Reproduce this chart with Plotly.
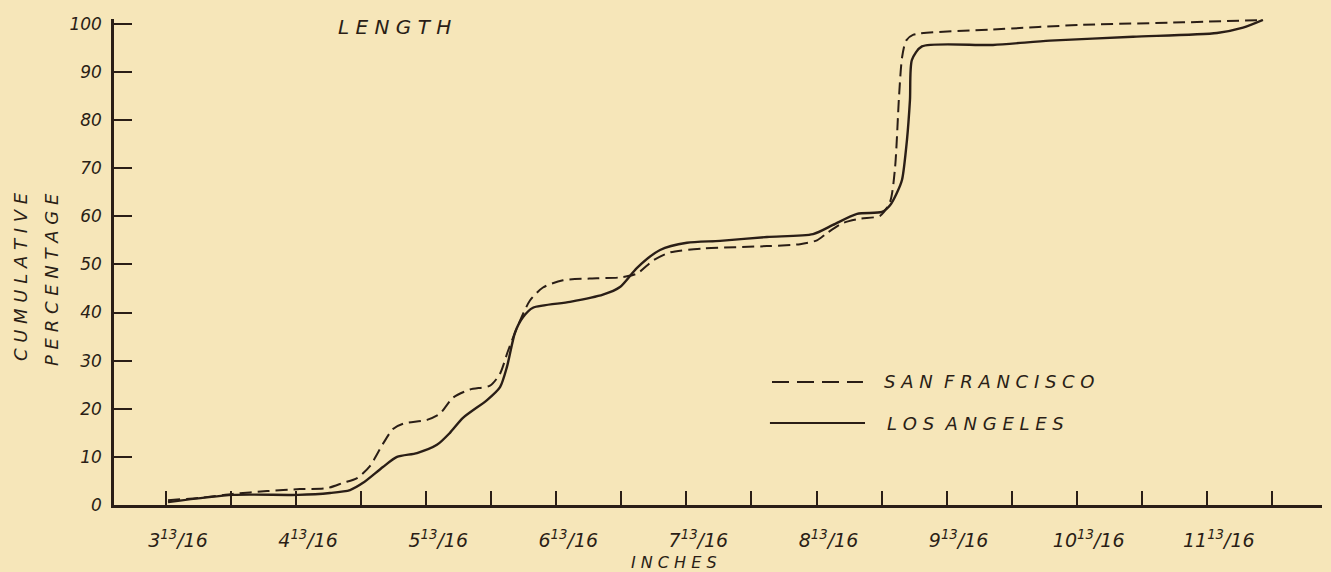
import plotly.graph_objects as go

# cumulative length distribution (inches, %)
la_x = [3.828, 4.327, 4.827, 5.073, 5.227, 5.327, 5.480, 5.588, 5.742, 5.895,
        5.995, 6.095, 6.280, 6.380, 6.433, 6.495, 6.556, 6.633, 6.918, 7.171,
        7.302, 7.433, 7.610, 7.817, 8.071, 8.432, 8.786, 8.939, 9.124, 9.316,
        9.378, 9.431, 9.470, 9.508, 9.531, 9.546, 9.623, 10.169, 10.607, 11.245,
        11.891, 12.091, 12.244]
la_y = [0.6, 2.1, 2.1, 2.5, 3.1, 4.6, 7.9, 10.0, 10.8, 12.5,
        15.0, 18.1, 21.8, 24.5, 28.7, 35.8, 39.0, 41.0, 42.2, 43.7,
        45.3, 49.3, 53.0, 54.5, 54.9, 55.7, 56.3, 58.2, 60.5, 60.9,
        62.3, 64.9, 67.6, 75.9, 84.2, 92.5, 95.3, 95.6, 96.5, 97.3,
        98.1, 99.2, 100.8]

sf_x = [3.828, 4.074, 4.327, 4.589, 4.842, 5.050, 5.173, 5.281, 5.380, 5.480,
        5.557, 5.634, 5.819, 5.919, 6.018, 6.149, 6.303, 6.380, 6.441, 6.510,
        6.610, 6.710, 6.864, 7.125, 7.302, 7.433, 7.556, 7.686, 7.940, 8.432,
        8.686, 8.816, 8.893, 9.016, 9.147, 9.301, 9.378, 9.416, 9.447, 9.470,
        9.501, 9.554, 10.169, 10.861, 11.629, 12.244]
sf_y = [1.0, 1.5, 2.3, 2.9, 3.3, 3.5, 4.6, 5.6, 8.1, 12.7,
        15.8, 16.9, 17.7, 19.0, 22.3, 24.0, 24.8, 27.3, 32.0, 36.8,
        42.5, 45.2, 46.7, 47.1, 47.3, 48.1, 50.8, 52.5, 53.3, 53.8,
        54.2, 55.0, 56.5, 58.6, 59.5, 60.1, 63.0, 70.0, 85.0, 93.0,
        96.5, 97.7, 98.8, 99.8, 100.3, 100.8]

y_ticks = [0, 10, 20, 30, 40, 50, 60, 70, 80, 90, 100]
x_ticks = [3.8125, 4.8125, 5.8125, 6.8125, 7.8125, 8.8125, 9.8125, 10.8125, 11.8125]
x_labels = ["3<sup>13</sup>/16", "4<sup>13</sup>/16", "5<sup>13</sup>/16",
            "6<sup>13</sup>/16", "7<sup>13</sup>/16", "8<sup>13</sup>/16",
            "9<sup>13</sup>/16", "10<sup>13</sup>/16", "11<sup>13</sup>/16"]
x_half_ticks = [4.3125, 5.3125, 6.3125, 7.3125, 8.3125, 9.3125, 10.3125, 11.3125, 12.3125]

INK = "#2a1e16"
PAPER = "#f6e6b9"
hand = dict(family="DejaVu Sans", color=INK, style="italic")

fig = go.Figure()
fig.add_trace(go.Scatter(x=sf_x, y=sf_y, mode="lines", name="SAN FRANCISCO",
                         line=dict(color=INK, width=2, dash="12px,6px", shape="spline", smoothing=0.7)))
fig.add_trace(go.Scatter(x=la_x, y=la_y, mode="lines", name="LOS ANGELES",
                         line=dict(color=INK, width=2.4, shape="spline", smoothing=0.7)))

fig.update_xaxes(range=[3.4128, 12.698], showgrid=False, zeroline=False,
                 showline=True, linecolor=INK, linewidth=2.5,
                 ticks="inside", ticklen=14, tickwidth=1.5, tickcolor=INK,
                 tickvals=x_ticks, ticktext=x_labels, tickangle=0,
                 minor=dict(tickvals=x_half_ticks, ticks="inside", ticklen=14,
                            tickwidth=1.5, tickcolor=INK, showgrid=False),
                 ticklabelshift=12, ticklabelstandoff=16,
                 tickfont=dict(size=19, **hand))
fig.update_yaxes(range=[0, 101], showgrid=False, zeroline=False,
                 showline=True, linecolor=INK, linewidth=2.5,
                 ticks="inside", ticklen=18, tickwidth=2, tickcolor=INK,
                 tickvals=y_ticks, ticktext=[str(v) for v in y_ticks],
                 ticklabelstandoff=6,
                 tickfont=dict(size=17, **hand))

notes = [
    dict(text="L E N G T H", x=0.2318, y=0.9835, size=20, angle=0),
    dict(text="I N C H E S", x=0.4636, y=-0.1173, size=16, angle=0),
    dict(text="C U M U L A T I V E", x=-0.0778, y=0.469, size=18, angle=-90),
    dict(text="P E R C E N T A G E", x=-0.0513, y=0.463, size=18, angle=-90),
]
for n in notes:
    fig.add_annotation(text=n["text"], x=n["x"], y=n["y"], xref="paper", yref="paper",
                       xanchor="center", yanchor="middle",
                       showarrow=False, textangle=n["angle"],
                       font=dict(size=n["size"], **hand))

# hand-drawn key
fig.add_shape(type="line", xref="paper", yref="paper", x0=0.5447, x1=0.6200, y0=0.2531, y1=0.2531,
              line=dict(color=INK, width=2, dash="17px,8px"))
fig.add_shape(type="line", xref="paper", yref="paper", x0=0.5430, x1=0.6217, y0=0.1687, y1=0.1687,
              line=dict(color=INK, width=2.2))
fig.add_annotation(text="S A N  F R A N C I S C O", x=0.6358, y=0.2531, xref="paper", yref="paper",
                   xanchor="left", yanchor="middle", showarrow=False, font=dict(size=18, **hand))
fig.add_annotation(text="L O S  A N G E L E S", x=0.6382, y=0.1687, xref="paper", yref="paper",
                   xanchor="left", yanchor="middle", showarrow=False, font=dict(size=18, **hand))

fig.update_layout(width=1331, height=572, showlegend=False,
                  margin=dict(l=114, r=9, t=19, b=67),
                  paper_bgcolor=PAPER, plot_bgcolor=PAPER)

fig.write_html("out.html", config={"displayModeBar": False},
               post_script="document.body.style.margin='0';")
